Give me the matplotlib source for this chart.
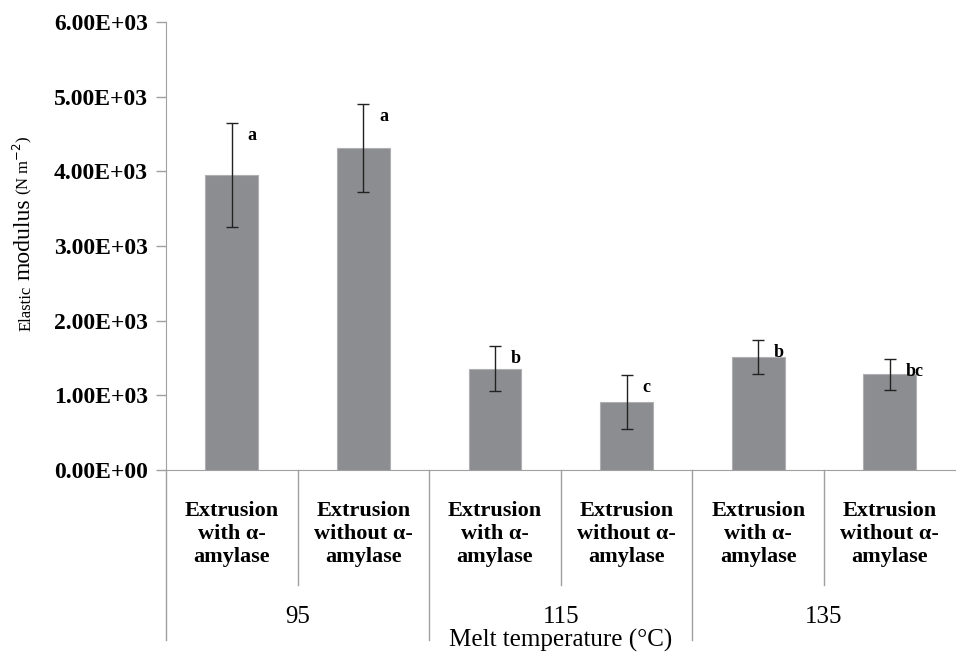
import numpy as np
import matplotlib
matplotlib.use("Agg")
import matplotlib.pyplot as plt
import matplotlib.transforms as mtransforms

# data
treatments = ["Extrusion\nwith \u03b1-\namylase", "Extrusion\nwithout \u03b1-\namylase"] * 3
temperatures = ["95", "115", "135"]
modulus = [3950, 4310, 1360, 910, 1517, 1281]
errors = [700, 590, 300, 365, 225, 210]
letters = ["a", "a", "b", "c", "b", "bc"]

plt.rcParams['font.family'] = ['Liberation Serif', 'DejaVu Serif']

fig = plt.figure(figsize=(9.56, 6.52), dpi=100)
ax = fig.add_axes([0.1736, 0.279, 0.826, 0.687])

x = np.arange(len(modulus))
ax.bar(x, modulus, width=0.4, color='#8c8d90', edgecolor='#b0b0b3', linewidth=0.8, zorder=2)
ax.errorbar(x, modulus, yerr=errors, fmt='none', ecolor='#222222', elinewidth=1,
            capsize=4, capthick=1, zorder=3)

# significance letters
for xi, v, e, lab in zip(x, modulus, errors, letters):
    ax.text(xi + 0.12, v + e - 170, lab, fontsize=13, fontweight='bold', ha='left', va='center')

ax.set_xlim(-0.5, 5.5)
ax.set_ylim(0, 6000)
yt = np.arange(0, 6001, 1000)
ax.set_yticks(yt)
ax.set_yticklabels(["%.2fE+03" % (t / 1000) if t > 0 else "0.00E+00" for t in yt])
ax.tick_params(axis='y', direction='out', length=7, width=1, color='#a0a0a0', pad=6,
               labelsize=17)
for lab in ax.get_yticklabels():
    lab.set_fontweight('bold')
ax.set_xticks([])

for s in ['top', 'right']:
    ax.spines[s].set_visible(False)
ax.spines['left'].set_color('#a0a0a0')
ax.spines['bottom'].set_color('#a0a0a0')

# multi-level category axis
trans = mtransforms.blended_transform_factory(ax.transData, ax.transAxes)
for i in range(1, len(modulus)):
    low = -0.379 if i % 2 == 0 else -0.257
    ax.plot([i - 0.5, i - 0.5], [0, low], color='#a0a0a0', lw=1, transform=trans, clip_on=False)
ax.plot([-0.5, -0.5], [0, -0.379], color='#a0a0a0', lw=1, transform=trans, clip_on=False)

for xi, lab in zip(x, treatments):
    ax.text(xi, -0.143, lab, transform=trans, ha='center', va='center', fontsize=16,
            fontweight='bold', linespacing=1.2)
for g, temp in enumerate(temperatures):
    ax.text(2 * g + 0.5, -0.328, temp, transform=trans, ha='center', va='center', fontsize=18)
ax.text(2.5, -0.38, "Melt temperature (\u00b0C)", transform=trans, ha='center', va='center',
        fontsize=18)

# y label with mixed sizes
fig.text(0.036, 0.527, "Elastic", rotation=90, ha='right', va='center', fontsize=12)
fig.text(0.036, 0.633, "modulus", rotation=90, ha='right', va='center', fontsize=17)
fig.text(0.036, 0.746, "(N m$^{-2}$)", rotation=90, ha='right', va='center', fontsize=12)

fig.savefig("out.png", dpi=100)
